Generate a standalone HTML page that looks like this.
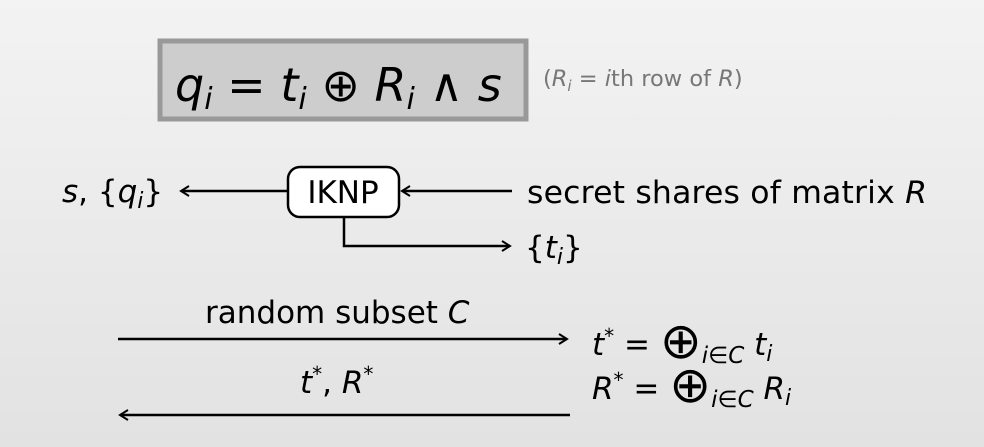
<!DOCTYPE html>
<html><head><style>
html,body{margin:0;padding:0;}
body{width:984px;height:447px;overflow:hidden;background:linear-gradient(#f3f3f3,#e2e2e2);}
svg{position:absolute;left:0;top:0;}
text{font-family:"DejaVu Sans","Liberation Sans",sans-serif;fill:#000;}
.i{font-style:italic;}
</style></head><body>
<svg width="984" height="447" viewBox="0 0 984 447">
<defs><marker id="a" markerWidth="12" markerHeight="12" refX="10" refY="6" orient="auto" markerUnits="userSpaceOnUse">
<path d="M2,1 L10,6 L2,11" fill="none" stroke="#000" stroke-width="2"/></marker></defs>
<rect x="160" y="41" width="366" height="78" fill="#cdcdcd" stroke="#999" stroke-width="5"/>
<text x="175" y="101" font-size="46"><tspan class="i">q</tspan><tspan class="i" font-size="30" dy="8">i</tspan><tspan dy="-8"> = </tspan><tspan class="i">t</tspan><tspan class="i" font-size="30" dy="8">i</tspan><tspan dy="-8"> ⊕ </tspan><tspan class="i">R</tspan><tspan class="i" font-size="30" dy="8">i</tspan><tspan dy="-8"> ∧ </tspan><tspan class="i">s</tspan></text>
<text x="543" y="86" font-size="22.5" style="fill:#777">(<tspan class="i" style="fill:#777">R</tspan><tspan class="i" font-size="15" dy="5" style="fill:#777">i</tspan><tspan dy="-5" style="fill:#777"> = </tspan><tspan class="i" style="fill:#777">i</tspan>th row of <tspan class="i" style="fill:#777">R</tspan>)</text>
<text x="62" y="202" font-size="31"><tspan class="i">s</tspan>, {<tspan class="i">q</tspan><tspan class="i" font-size="22" dy="6">i</tspan><tspan dy="-6">}</tspan></text>
<line x1="287" y1="191" x2="181" y2="191" stroke="#000" stroke-width="2.5" marker-end="url(#a)"/>
<rect x="288" y="167" width="111" height="50" rx="12" fill="#fff" stroke="#000" stroke-width="2.5"/>
<text x="343" y="203" font-size="31" text-anchor="middle">IKNP</text>
<line x1="512" y1="191" x2="402" y2="191" stroke="#000" stroke-width="2.5" marker-end="url(#a)"/>
<text x="527" y="203" font-size="31.5" textLength="400">secret shares of matrix <tspan class="i">R</tspan></text>
<polyline points="344,217 344,246 510,246" fill="none" stroke="#000" stroke-width="2.5" marker-end="url(#a)"/>
<text x="525" y="258" font-size="31">{<tspan class="i">t</tspan><tspan class="i" font-size="22" dy="6">i</tspan><tspan dy="-6">}</tspan></text>
<text x="205" y="323" font-size="31">random subset <tspan class="i">C</tspan></text>
<line x1="118" y1="339" x2="567" y2="339" stroke="#000" stroke-width="2.5" marker-end="url(#a)"/>
<text x="300" y="393" font-size="31"><tspan class="i">t</tspan><tspan font-size="20" dy="-12">*</tspan><tspan dy="12">, </tspan><tspan class="i">R</tspan><tspan font-size="20" dy="-12">*</tspan></text>
<line x1="570" y1="415" x2="120" y2="415" stroke="#000" stroke-width="2.5" marker-end="url(#a)"/>
<text x="592" y="355" font-size="31"><tspan class="i">t</tspan><tspan font-size="20" dy="-12">*</tspan><tspan dy="12"> = </tspan><tspan font-size="50" dy="3">⊕</tspan><tspan class="i" font-size="23" dy="5">i</tspan><tspan font-size="23">∈</tspan><tspan class="i" font-size="23">C</tspan><tspan class="i" dy="-8"> t</tspan><tspan class="i" font-size="22" dy="6">i</tspan></text>
<text x="592" y="399" font-size="31"><tspan class="i">R</tspan><tspan font-size="20" dy="-12">*</tspan><tspan dy="12"> = </tspan><tspan font-size="50" dy="3">⊕</tspan><tspan class="i" font-size="23" dy="5">i</tspan><tspan font-size="23">∈</tspan><tspan class="i" font-size="23">C</tspan><tspan class="i" dy="-8"> R</tspan><tspan class="i" font-size="22" dy="6">i</tspan></text>
</svg>
</body></html>
